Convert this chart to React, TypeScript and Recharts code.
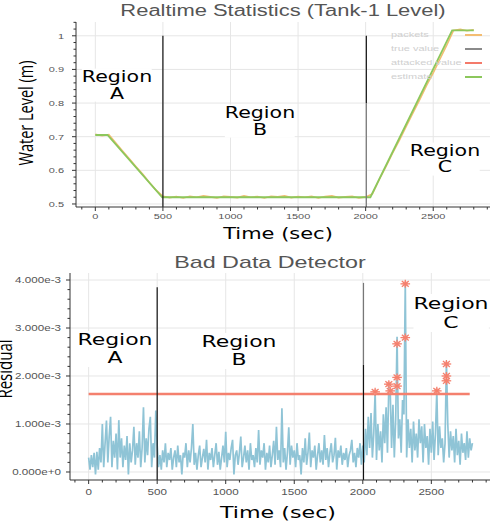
import React from 'react';
import {
  LineChart,
  ComposedChart,
  Line,
  Scatter,
  XAxis,
  YAxis,
  CartesianGrid,
  ReferenceLine,
} from 'recharts';

// ---- top: tank-1 water level (m) ----
const packetTimes = [
  0, 50, 100, 150, 200, 250, 300, 350, 400, 450, 500, 550, 600, 650, 700, 750, 800, 850, 900, 950,
  1000, 1050, 1100, 1150, 1200, 1250, 1300, 1350, 1400, 1450, 1500, 1550, 1600, 1650, 1700, 1750,
  1800, 1850, 1900, 1950, 2000, 2050, 2100, 2150, 2200, 2250, 2300, 2350, 2400, 2450, 2500, 2550,
  2600, 2650, 2700, 2750, 2800,
];
const packetLevels = [
  0.707, 0.703, 0.706, 0.682, 0.658, 0.635, 0.611, 0.589, 0.564, 0.541, 0.523, 0.519, 0.522, 0.518,
  0.523, 0.52, 0.524, 0.521, 0.518, 0.523, 0.521, 0.519, 0.524, 0.52, 0.522, 0.518, 0.523, 0.521,
  0.524, 0.519, 0.522, 0.52, 0.523, 0.518, 0.522, 0.524, 0.519, 0.521, 0.523, 0.518, 0.521, 0.53,
  0.572, 0.611, 0.652, 0.69, 0.731, 0.771, 0.81, 0.852, 0.89, 0.931, 0.972, 1.016, 1.019, 1.015, 1.018,
];
const estimateTimes = [0, 90, 495, 2035, 2640, 2800];
const estimateLevels = [0.705, 0.705, 0.52, 0.52, 1.016, 1.016];

const levelMajor = [0.5, 0.6, 0.7, 0.8, 0.9, 1];
const levelTicks = [
  0.5, 0.52, 0.54, 0.56, 0.58, 0.6, 0.62, 0.64, 0.66, 0.68, 0.7, 0.72, 0.74, 0.76, 0.78, 0.8, 0.82,
  0.84, 0.86, 0.88, 0.9, 0.92, 0.94, 0.96, 0.98, 1, 1.02, 1.04,
];

// ---- shared time axis ----
const timeMajor = [0, 500, 1000, 1500, 2000, 2500];
const timeTicks = [
  -100, 0, 100, 200, 300, 400, 500, 600, 700, 800, 900, 1000, 1100, 1200, 1300, 1400, 1500, 1600,
  1700, 1800, 1900, 2000, 2100, 2200, 2300, 2400, 2500, 2600, 2700, 2800, 2900,
];

// ---- bottom: residual (units of 1e-3), one sample every 10 s ----
const RESIDUAL_STEP = 10;
const residuals = [
  // region A
  0.3, 0.05, 0.35, 0.1, 0.4, -0.05, 0.42, 0.05, 0.5, 0.2,
  1.0, 0.1, 0.6, 1.07, 0.2, 0.75, 1.15, 0.1, 0.65, 0.3,
  0.8, 0.05, 1.08, 0.3, 0.7, 0.1, 0.55, 0.25, 0.75, -0.05,
  0.6, 0.2, 0.45, 0.94, 0.15, 0.6, 0.3, 0.85, 0.1, 0.5,
  1.35, 0.2, 0.7, 0.35, 0.9, 1.15, 0.1, 0.6, 0.3, 1.28,
  // region B
  0.55, 0.1, 0.35, 0.05, 0.45, 0.2, 0.6, 0.1, 0.4, 0.25,
  0.5, 0.05, 0.3, 0.45, 0.1, 0.55, 0.2, 0.35, -0.05, 0.4,
  0.3, 0.6, 0.1, 0.45, 0.2, 0.5, 1.0, 0.15, 0.4, 0.05,
  0.35, 0.55, 0.1, 0.3, 0.48, 0.2, 0.67, 0.05, 0.4, 0.25,
  0.5, 0.1, 0.35, 0.6, 0.15, 0.42, 0.05, 0.3, 0.55, 0.2,
  0.84, 0.1, 0.4, 0.25, 0.5, 0.67, -0.05, 0.35, 0.45, 0.15,
  0.4, 0.74, 0.1, 0.3, 0.55, 0.2, 0.45, 0.05, 0.6, 0.25,
  0.35, 0.1, 0.5, 0.2, 0.875, 0.15, 0.45, 0.3, 0.6, 0.05,
  0.4, 0.2, 0.55, 0.1, 0.35, 0.65, 0.15, 0.94, 0.25, 0.45,
  0.1, 1.33, 0.2, 0.5, 0.05, 0.4, 0.93, 0.15, 0.55, 0.3,
  0.45, 0.1, 0.6, 0.25, 0.35, -0.05, 0.5, 0.2, 0.7, 0.15,
  0.4, 0.82, 0.1, 0.45, 0.3, 0.55, 0.05, 0.35, 0.6, 0.2,
  0.45, 0.15, 0.77, 0.25, 0.5, 0.1, 0.4, 0.6, 0.2, 0.35,
  0.71, 0.05, 0.45, 0.3, 0.55, 0.15, 0.4, 0.25, 0.5, 0.1,
  0.35, 0.45, 0.67, 0.2, 0.4, 0.1, 0.5, 0.3, 0.6, 0.15,
  // region C
  0.55, 0.2, 0.9, 0.35, 1.15, 0.5, 1.23, 0.3, 0.8, 1.67,
  0.25, 1.0, 0.45, 0.85, 0.2, 1.2, 0.6, 1.35, 0.4, 1.83,
  1.69, 0.5, 1.4, 0.3, 1.1, 2.82, 0.7, 1.1, 0.4, 1.5,
  1.2, 3.96, 0.3, 1.1, 0.5, 0.9, 0.2, 1.05, 0.45, 0.8,
  0.3, 1.1, 0.6, 0.95, 0.2, 1.0, 0.5, 0.75, 0.15, 0.9,
  0.4, 1.05, 0.25, 0.8, 1.69, 0.35, 0.95, 0.5, 0.7, 0.2,
  0.6, 2.3, 1.0, 0.3, 0.85, 0.45, 0.75, 0.2, 0.9, 0.35,
  0.65, 0.15, 0.8, 0.4, 0.6, 0.25, 0.85, 0.3, 0.7, 0.45,
  0.6,
];
const alarmTimes = [2090, 2190, 2200, 2250, 2250, 2250, 2310, 2310, 2540, 2610, 2610, 2610];
const alarmValues = [1.67, 1.83, 1.69, 2.67, 1.97, 1.79, 3.92, 2.8, 1.69, 2.25, 2.0, 1.9];
const THRESHOLD = 1.625;
const THRESHOLD_END = 2780;

const residualMajor = [0, 1, 2, 3, 4];
const residualLabels = ['0.000e+0', '1.000e-3', '2.000e-3', '3.000e-3', '4.000e-3'];
const residualTicks = [
  0, 0.2, 0.4, 0.6, 0.8, 1, 1.2, 1.4, 1.6, 1.8, 2, 2.2, 2.4, 2.6, 2.8, 3, 3.2, 3.4, 3.6, 3.8, 4,
];

const legendItems = [
  { name: 'packets', color: '#f3bd72' },
  { name: 'true value', color: '#8a8a8a' },
  { name: 'attacked value', color: '#f47a6a' },
  { name: 'estimate', color: '#8cc75c' },
];

const packetData = packetTimes.map((t, i) => ({ t, v: packetLevels[i] }));
const estimateData = estimateTimes.map((t, i) => ({ t, v: estimateLevels[i] }));
const residualData = residuals.map((v, i) => ({ t: i * RESIDUAL_STEP, v }));
const alarmData = alarmTimes.map((t, i) => ({ t, v: alarmValues[i] }));

const STRETCH = 1.37; // the source screenshot is stretched sideways
const SANS = '"Liberation Sans", Arial, sans-serif';
const AXIS = '#333';

const makeXTick = (dy: number, size: number) => (props: any) => {
  const { x, y, payload } = props;
  const major = timeMajor.includes(payload.value);
  return (
    <g>
      <line x1={x} x2={x} y1={y} y2={y + (major ? 4 : 2.5)} stroke={AXIS} />
      {major && (
        <text
          transform={`translate(${x},${y + dy}) scale(${STRETCH},1)`}
          textAnchor="middle"
          fontSize={size}
          fontFamily={SANS}
          fill="#555"
        >
          {payload.value}
        </text>
      )}
    </g>
  );
};

const makeYTick = (majors: number[], gap: number, size: number, label: (v: number) => string) =>
  (props: any) => {
    const { x, y, payload } = props;
    const idx = majors.findIndex((m) => Math.abs(m - payload.value) < 1e-9);
    const major = idx >= 0;
    return (
      <g>
        <line x1={x - (major ? 4 : 2.5)} x2={x} y1={y} y2={y} stroke={AXIS} />
        {major && (
          <text
            transform={`translate(${x - gap},${y + 3}) scale(${STRETCH},1)`}
            textAnchor="end"
            fontSize={size}
            fontFamily={SANS}
            fill="#555"
          >
            {label(majors[idx])}
          </text>
        )}
      </g>
    );
  };

const Asterisk = (props: any) => {
  const { cx, cy } = props;
  const r = 4;
  const d = r * 0.72;
  return (
    <g stroke="#f4806e" strokeWidth={1.3}>
      <circle cx={cx} cy={cy} r={2.6} fill="#f9b5aa" stroke="none" />
      <line x1={cx - r * 1.2} x2={cx + r * 1.2} y1={cy} y2={cy} />
      <line x1={cx} x2={cx} y1={cy - r} y2={cy + r} />
      <line x1={cx - d * 1.2} x2={cx + d * 1.2} y1={cy - d} y2={cy + d} />
      <line x1={cx - d * 1.2} x2={cx + d * 1.2} y1={cy + d} y2={cy - d} />
    </g>
  );
};

type TxtProps = {
  x: number;
  y: number;
  size: number;
  family?: string;
  color?: string;
  rotate?: boolean;
  bg?: boolean;
  lh?: number;
  children: React.ReactNode;
};

const Txt = ({ x, y, size, family = '"DejaVu Sans", sans-serif', color = '#000', rotate, bg, lh, children }: TxtProps) => (
  <div
    style={{
      position: 'absolute',
      left: x,
      top: y,
      transform: `translate(-50%, -50%) scaleX(${STRETCH})${rotate ? ' rotate(-90deg)' : ''}`,
      whiteSpace: 'nowrap',
      textAlign: 'center',
      fontSize: size,
      fontFamily: family,
      color,
      lineHeight: lh ? `${lh}px` : 1,
      background: bg ? '#fff' : 'transparent',
    }}
  >
    {children}
  </div>
);

// two-line "Region X" tag, centred on (x, y) = midpoint of both lines
const RegionLabel = ({ x, y, size, letter, gap }: { x: number; y: number; size: number; letter: string; gap: number }) => (
  <Txt x={x} y={y + gap / 2} size={size} lh={gap} bg>
    Region
    <br />
    {letter}
  </Txt>
);

export default function App() {
  return (
    <div
      style={{
        position: 'absolute',
        left: 0,
        top: 0,
        width: 490,
        height: 527,
        background: '#fff',
        overflow: 'hidden',
      }}
    >
      <div style={{ position: 'absolute', left: 0, top: 0 }}>
        <LineChart width={490} height={250} margin={{ top: 22, right: 0, bottom: 0, left: 0 }}>
          <CartesianGrid stroke="#e6e6e6" verticalValues={timeMajor} horizontalValues={levelMajor} />
          <XAxis
            dataKey="t"
            type="number"
            domain={[-143, 2920]}
            allowDataOverflow
            ticks={timeTicks}
            interval={0}
            height={43}
            tickSize={0}
            tickMargin={0}
            tickLine={false}
            axisLine={{ stroke: AXIS }}
            tick={makeXTick(11.5, 8)}
          />
          <YAxis
            dataKey="v"
            type="number"
            domain={[0.491, 1.041]}
            allowDataOverflow
            ticks={levelTicks}
            interval={0}
            width={76}
            tickSize={0}
            tickMargin={0}
            tickLine={false}
            axisLine={{ stroke: AXIS }}
            tick={makeYTick(levelMajor, 12, 8, (v) => String(v))}
          />
          <Line data={packetData} dataKey="v" stroke="#f3bd72" strokeWidth={1.6} dot={false} isAnimationActive={false} />
          <Line data={estimateData} dataKey="v" stroke="#8cc75c" strokeWidth={1.8} dot={false} isAnimationActive={false} />
          <ReferenceLine segment={[{ x: 500, y: 0.491 }, { x: 500, y: 1 }]} stroke="#111" strokeWidth={1.2} />
          <ReferenceLine segment={[{ x: 2005, y: 0.8 }, { x: 2005, y: 1 }]} stroke="#111" strokeWidth={1.2} />
          <ReferenceLine segment={[{ x: 2005, y: 0.491 }, { x: 2005, y: 0.8 }]} stroke="#777" strokeWidth={1.2} />
        </LineChart>
      </div>

      <div style={{ position: 'absolute', left: 0, top: 250 }}>
        <ComposedChart width={490} height={277} margin={{ top: 23, right: 0, bottom: 0, left: 0 }}>
          <CartesianGrid stroke="#e6e6e6" verticalValues={timeMajor} horizontalValues={residualMajor} />
          <XAxis
            dataKey="t"
            type="number"
            domain={[-136, 2928]}
            allowDataOverflow
            ticks={timeTicks}
            interval={0}
            height={47}
            tickSize={0}
            tickMargin={0}
            tickLine={false}
            axisLine={{ stroke: AXIS }}
            tick={makeXTick(15, 8.5)}
          />
          <YAxis
            dataKey="v"
            type="number"
            domain={[-0.167, 4.146]}
            allowDataOverflow
            ticks={residualTicks}
            interval={0}
            width={70}
            tickSize={0}
            tickMargin={0}
            tickLine={false}
            axisLine={{ stroke: AXIS }}
            tick={makeYTick(residualMajor, 9, 8.5, (v) => residualLabels[residualMajor.indexOf(v)])}
          />
          <Line data={residualData} dataKey="v" stroke="#8fc4d6" strokeWidth={1.7} dot={false} isAnimationActive={false} />
          <ReferenceLine
            segment={[{ x: 0, y: THRESHOLD }, { x: THRESHOLD_END, y: THRESHOLD }]}
            stroke="#f4806e"
            strokeWidth={2.5}
          />
          <ReferenceLine segment={[{ x: 500, y: -0.167 }, { x: 500, y: 3.85 }]} stroke="#111" strokeWidth={1.2} />
          <ReferenceLine segment={[{ x: 2005, y: -0.167 }, { x: 2005, y: 2.23 }]} stroke="#111" strokeWidth={1.2} />
          <ReferenceLine segment={[{ x: 2005, y: 2.23 }, { x: 2005, y: 3.94 }]} stroke="#777" strokeWidth={1.2} />
          <Scatter data={alarmData} dataKey="v" shape={<Asterisk />} isAnimationActive={false} />
        </ComposedChart>
      </div>

      {/* titles and axis labels */}
      <Txt x={283} y={11} size={16} family={SANS} color="#555">Realtime Statistics (Tank-1 Level)</Txt>
      <Txt x={26} y={113} size={14.5} family='"Open Sans", sans-serif' rotate>Water Level (m)</Txt>
      <Txt x={278} y={235} size={15.3}>Time (sec)</Txt>

      <Txt x={270} y={262} size={17} family={SANS} color="#555">Bad Data Detector</Txt>
      <Txt x={4} y={369} size={15} family='"Open Sans", sans-serif' rotate>Residual</Txt>
      <Txt x={278} y={513} size={16.2}>Time (sec)</Txt>

      {/* legend */}
      {legendItems.map((item, i) => (
        <div key={item.name}>
          <div
            style={{
              position: 'absolute',
              left: 391,
              top: 34.7 + i * 14.2 - 4,
              fontSize: 8,
              fontFamily: SANS,
              color: '#cfcfcf',
              lineHeight: '8px',
              whiteSpace: 'nowrap',
              transform: `scaleX(${STRETCH})`,
              transformOrigin: 'left center',
            }}
          >
            {item.name}
          </div>
          <div
            style={{
              position: 'absolute',
              left: 465,
              top: 34.7 + i * 14.2 - 1,
              width: 17,
              height: 2,
              background: item.color,
            }}
          />
        </div>
      ))}

      {/* region annotations */}
      <RegionLabel x={117} y={77} size={15} letter="A" gap={16.4} />
      <RegionLabel x={259.5} y={113} size={15} letter="B" gap={16.4} />
      <RegionLabel x={444.7} y={150.7} size={15} letter="C" gap={16.4} />
      <RegionLabel x={115} y={340} size={16} letter="A" gap={18} />
      <RegionLabel x={238.5} y={342} size={16} letter="B" gap={18} />
      <RegionLabel x={450.8} y={303} size={16} letter="C" gap={19} />
    </div>
  );
}
